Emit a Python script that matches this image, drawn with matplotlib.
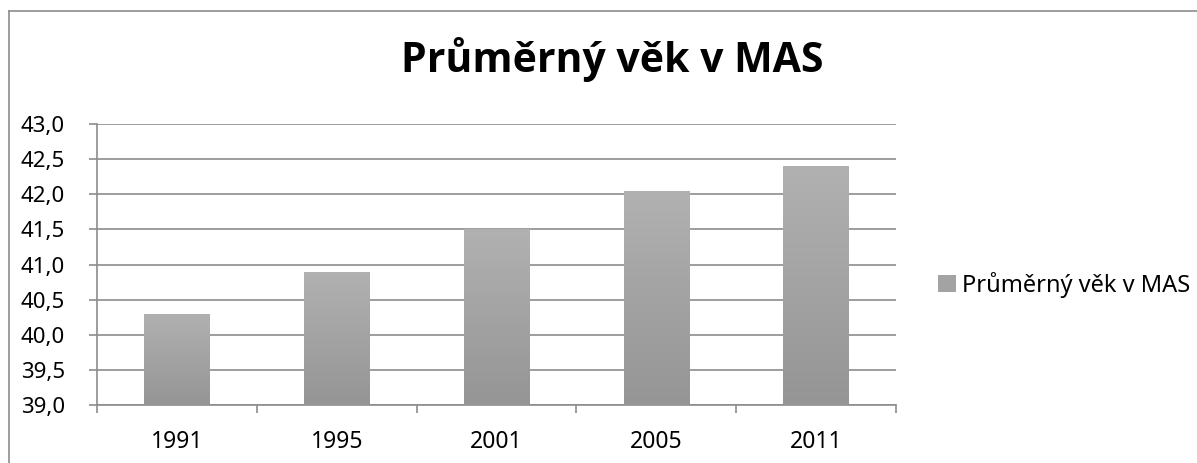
import numpy as np
import matplotlib.pyplot as plt
from matplotlib.lines import Line2D
from matplotlib.patches import Patch

plt.rcParams['font.family'] = ['Noto Sans', 'DejaVu Sans']

years = ['1991', '1995', '2001', '2005', '2011']
ages = [40.3, 40.9, 41.5, 42.05, 42.4]
title = 'Průměrný věk v MAS'
series_name = 'Průměrný věk v MAS'

W, H = 1197, 463
fig = plt.figure(figsize=(W / 100, H / 100), dpi=100)
ax = fig.add_axes([97 / W, 1 - 405 / H, (896 - 97) / W, (405 - 124) / H])

# outer chart border (only left/top visible in the crop)
fig.add_artist(Line2D([9 / W, 9 / W], [0, 1 - 11 / H], color='#8c8c8c', lw=1.2, transform=fig.transFigure))
fig.add_artist(Line2D([9 / W, 1], [1 - 11 / H, 1 - 11 / H], color='#8c8c8c', lw=1.2, transform=fig.transFigure))

x = np.arange(len(years))
bars = ax.bar(x, ages, width=0.41, color='none', zorder=3)

# vertical gray gradient inside each bar
grad = np.linspace(0, 1, 256).reshape(-1, 1)
cmap = plt.matplotlib.colors.LinearSegmentedColormap.from_list('g', ['#959595', '#b1b1b1'])
for b in bars:
    x0 = b.get_x()
    im = ax.imshow(grad, cmap=cmap, origin='lower', aspect='auto',
                   extent=(x0, x0 + b.get_width(), 39, b.get_height()), zorder=3)
    im.set_clip_path(b)
ax.set_xlim(-0.5, len(years) - 0.5)
ax.set_ylim(39, 43)

ax.set_yticks(np.arange(39, 43.01, 0.5))
ax.set_yticklabels([f'{v:.1f}'.replace('.', ',') for v in np.arange(39, 43.01, 0.5)])
ax.yaxis.grid(True, color='#8c8c8c', lw=1.2, zorder=1)
ax.set_axisbelow(True)

ax.set_xticks(x)
ax.set_xticklabels(years)
ax.set_xticks(np.arange(-0.5, len(years)), minor=True)
ax.tick_params(axis='x', which='major', length=0, pad=18, labelsize=16.5)
ax.tick_params(axis='x', which='minor', length=6, color='#8c8c8c', width=1.2)
ax.tick_params(axis='y', length=6, color='#8c8c8c', width=1.2, pad=17, labelsize=16)

for s in ['top', 'right']:
    ax.spines[s].set_visible(False)
for s in ['left', 'bottom']:
    ax.spines[s].set_color('#8c8c8c')
    ax.spines[s].set_linewidth(1.2)

fig.text(612 / W, 1 - 72 / H, title, ha='center', va='baseline', fontsize=29.5,
         fontweight='bold', family=['Open Sans', 'DejaVu Sans'])

fig.legend(handles=[Patch(facecolor='#a3a3a3', edgecolor='none', label=series_name)],
           loc='center left', bbox_to_anchor=(938 / W, 1 - 285 / H), frameon=False,
           fontsize=17, handlelength=0.75, handleheight=0.75, handletextpad=0.25,
           borderaxespad=0, borderpad=0)

fig.savefig('out.png', dpi=100)
